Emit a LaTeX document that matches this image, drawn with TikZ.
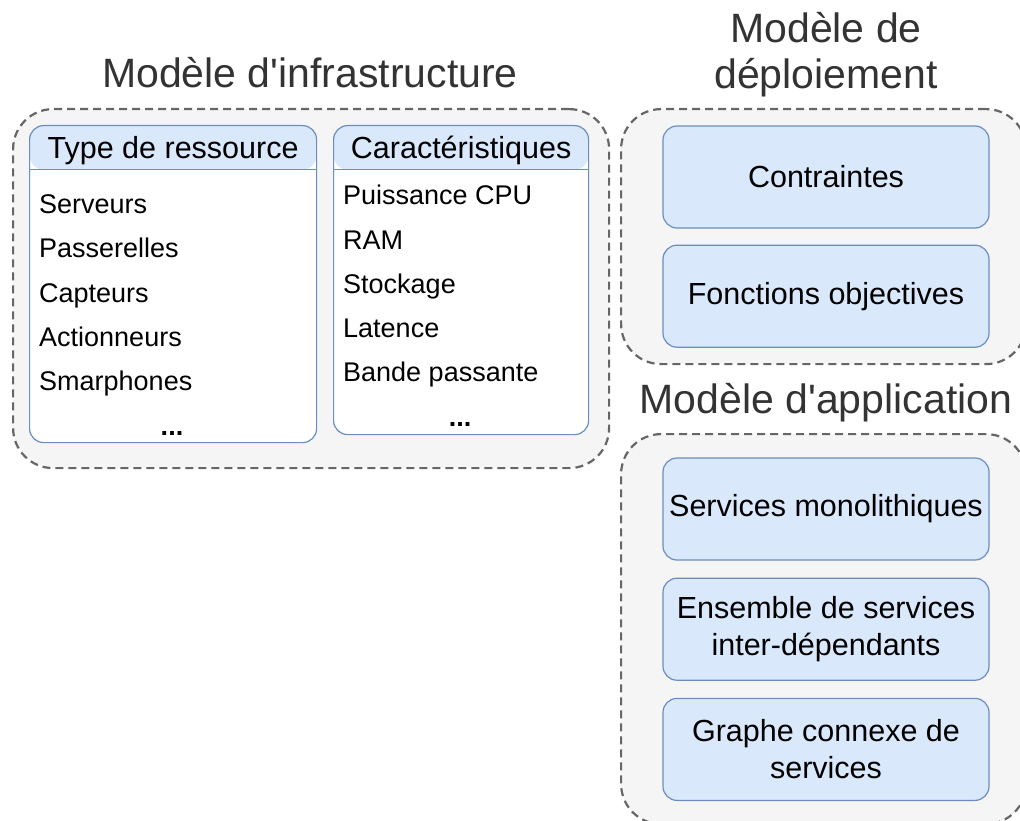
\documentclass[tikz,border=0pt]{standalone}
\usepackage{fontspec}
\setmainfont{Liberation Sans}
\newfontfamily\titlefont{Liberation Sans}
\usetikzlibrary{positioning}
\definecolor{grpfill}{HTML}{F5F5F5}
\definecolor{grpline}{HTML}{666666}
\definecolor{boxfill}{HTML}{DAE8FC}
\definecolor{boxline}{HTML}{6C8EBF}
\definecolor{titlegray}{HTML}{333333}
\begin{document}
\begin{tikzpicture}[x=1pt, y=-1pt,
  groupbox/.style={draw=grpline, fill=grpfill, line width=2.2pt, dash pattern=on 8pt off 5pt, rounded corners=40pt, anchor=north west},
  modeltitle/.style={text=titlegray, font=\titlefont\fontsize{41}{46}\selectfont, align=center},
  listbox/.style={draw=boxline, fill=white, line width=1.2pt, rounded corners=14pt, anchor=north west,
    path picture={
      \fill[boxfill] (path picture bounding box.north west) rectangle ([yshift=-44pt]path picture bounding box.north east);
      \draw[boxline, line width=1.2pt] ([yshift=-44pt]path picture bounding box.north west) -- ([yshift=-44pt]path picture bounding box.north east);
    }},
  headtext/.style={font=\fontsize{30.5}{35}\selectfont, anchor=base},
  item/.style={font=\fontsize{27}{32}\selectfont, anchor=base west, inner sep=0pt},
  cell/.style={draw=boxline, fill=boxfill, line width=1.2pt, rounded corners=14pt, minimum width=326pt, minimum height=102pt, align=center, font=\fontsize{30.5}{37}\selectfont}
]
\useasboundingbox (0,0) rectangle (1020,821);

% containers
\node[groupbox, minimum width=596pt, minimum height=359pt] (infra) at (12,108) {};
\node[groupbox, minimum width=405pt, minimum height=255pt] (deploy) at (620,108) {};
\node[groupbox, minimum width=405pt, minimum height=390pt] (appli) at (620,433) {};

% titles
\node[modeltitle, anchor=base] (infratitle) at (310,88) {Modèle d'infrastructure};
\node[modeltitle, anchor=base] (deploytitle) at (826,89) {Modèle de\\déploiement};
\node[modeltitle, anchor=base] (applititle) at (826,413) {Modèle d'application};

% infrastructure lists
\node[listbox, minimum width=287pt, minimum height=317pt] (restype) at (29,125) {};
\node[listbox, minimum width=255pt, minimum height=309pt] (carac) at (333,125) {};
\node[headtext] (restypehead) at ([yshift=-34pt]restype.north) {Type de ressource};
\node[headtext] (carachead) at ([yshift=-34pt]carac.north) {Caractéristiques};

\foreach \txt [count=\i] in {Serveurs, Passerelles, Capteurs, Actionneurs, Smarphones}
  \node[item] (res\i) at (39,{170+44*\i}) {\txt};
\node[item, anchor=base] (resdots) at (172,435) {\textbf{...}};

\foreach \txt [count=\i] in {Puissance CPU, RAM, Stockage, Latence, Bande passante}
  \node[item] (car\i) at (343,{161+44*\i}) {\txt};
\node[item, anchor=base] (cardots) at (460,426) {\textbf{...}};

% deployment
\node[cell] (contr) at (826,177) {Contraintes};
\node[cell, below=16pt of contr] (fonct) {Fonctions objectives};

% application
\node[cell] (mono) at (826,509) {Services monolithiques};
\node[cell, below=17pt of mono] (ensemble) {Ensemble de services\\inter-dépendants};
\node[cell, below=17pt of ensemble] (graphe) {Graphe connexe de\\services};
\end{tikzpicture}
\end{document}
